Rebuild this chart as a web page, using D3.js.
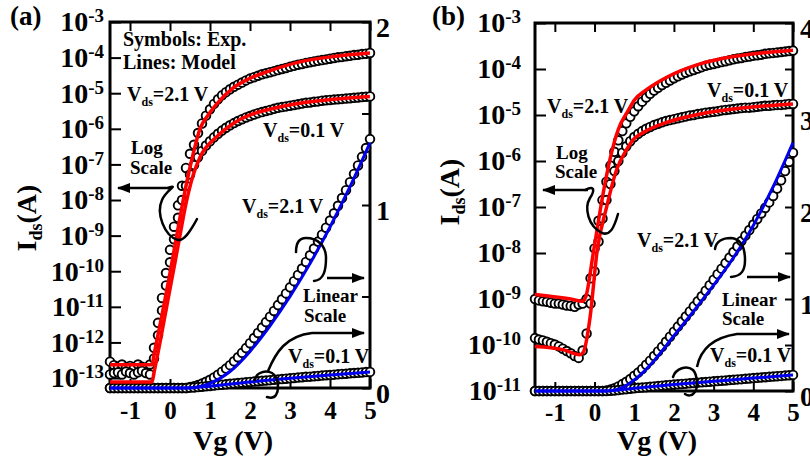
<!DOCTYPE html>
<html>
<head>
<meta charset="utf-8">
<script src="https://cdn.jsdelivr.net/npm/d3@7"></script>
<style>
  body { margin: 0; background: #fff; }
  svg text { font-family: "Liberation Serif", "Times New Roman", "DejaVu Serif", serif; font-weight: bold; fill: #000; }
</style>
</head>
<body>
<svg id="chart" width="810" height="461"></svg>
<script>
// gate voltage of the measured points (V)
const vg = [-1.5,-1.4,-1.3,-1.2,-1.1,-1.0,-0.9,-0.8,-0.7,-0.6,-0.5,-0.4,-0.3,-0.2,-0.1,0,
  0.1,0.2,0.3,0.4,0.5,0.6,0.7,0.8,0.9,1.0,1.1,1.2,1.3,1.4,1.5,1.6,1.7,1.8,1.9,2.0,
  2.1,2.2,2.3,2.4,2.5,2.6,2.7,2.8,2.9,3.0,3.1,3.2,3.3,3.4,3.5,3.6,3.7,3.8,3.9,4.0,
  4.1,4.2,4.3,4.4,4.5,4.6,4.7,4.8,4.9,5.0];

// panel (a) measured, log10(Ids / A)
const aLog21Exp = [-12.54,-12.64,-12.68,-12.62,-12.7,-12.66,-12.7,-12.62,-12.68,-12.72,-12.62,
  -12.15,-11.45,-10.75,-10.05,-9.4,-8.75,-8.15,-7.6,-7.1,-6.7,
  -6.45,-6.12,-5.85,-5.63,-5.45,
  -5.3,-5.17,-5.06,-4.97,-4.89,-4.82,-4.76,-4.7,-4.64,-4.59,
  -4.55,-4.51,-4.47,-4.44,-4.41,-4.38,-4.35,-4.32,-4.29,-4.26,
  -4.23,-4.2,-4.18,-4.15,-4.13,-4.11,-4.09,-4.07,-4.05,-4.03,
  -4.01,-3.99,-3.98,-3.96,-3.95,-3.93,-3.92,-3.9,-3.89,-3.87];
const aLog01Exp = [-12.9,-12.86,-12.84,-12.9,-12.82,-12.86,-12.9,-12.84,-12.8,-12.86,-12.9,
  -12.45,-11.8,-11.1,-10.4,-9.75,-9.1,-8.5,-8.0,-7.6,-7.28,
  -7.02,-6.8,-6.62,-6.47,-6.35,
  -6.24,-6.14,-6.05,-5.97,-5.9,-5.84,-5.78,-5.73,-5.68,-5.64,
  -5.6,-5.56,-5.53,-5.5,-5.47,-5.44,-5.41,-5.39,-5.37,-5.35,
  -5.33,-5.31,-5.29,-5.27,-5.26,-5.24,-5.23,-5.21,-5.2,-5.19,
  -5.18,-5.17,-5.16,-5.15,-5.14,-5.13,-5.12,-5.11,-5.1,-5.09];
// panel (a) measured, right (linear) axis units
const aLin21Exp = [0,0,0,0,0,0,0,0,0,0,0,0,0,0,0,0,0,0,0,0,
  0.006,0.01,0.016,0.024,0.034,0.045,
  0.058,0.073,0.089,0.106,0.125,0.146,0.168,0.192,0.218,0.245,
  0.273,0.301,0.33,0.36,0.39,0.421,0.453,0.485,0.517,0.55,
  0.584,0.618,0.653,0.689,0.725,0.762,0.8,0.838,0.876,0.915,
  0.955,0.996,1.038,1.081,1.125,1.17,1.216,1.263,1.311,1.36];
const aLin01Exp = [0,0,0,0,0,0,0,0,0,0,0,0,0,0,0,0,0,0,0,0,
  0.002,0.003,0.005,0.007,0.009,0.011,
  0.013,0.016,0.018,0.02,0.023,0.025,0.027,0.029,0.031,0.033,
  0.035,0.037,0.039,0.041,0.043,0.045,0.047,0.049,0.051,0.053,
  0.055,0.057,0.059,0.061,0.062,0.064,0.066,0.068,0.07,0.071,
  0.073,0.075,0.077,0.078,0.08,0.082,0.083,0.085,0.087,0.088];

// panel (b) measured
const bLog21Exp = [-9.0,-9.03,-9.05,-9.06,-9.08,-9.1,-9.1,-9.12,-9.14,-9.15,-9.17,
  -9.12,-9.1,-9.0,-8.55,-7.9,-7.3,-6.85,-6.45,-6.1,-5.8,
  -5.55,-5.35,-5.18,-5.04,-4.92,
  -4.81,-4.71,-4.62,-4.54,-4.47,-4.41,-4.35,-4.3,-4.25,-4.2,
  -4.16,-4.12,-4.08,-4.05,-4.02,-3.99,-3.96,-3.93,-3.91,-3.89,
  -3.87,-3.85,-3.83,-3.81,-3.79,-3.77,-3.76,-3.74,-3.73,-3.71,
  -3.7,-3.69,-3.67,-3.66,-3.65,-3.64,-3.63,-3.62,-3.61,-3.6];
const bLog01Exp = [-9.85,-9.88,-9.9,-9.93,-9.96,-9.99,-10.03,-10.08,-10.13,-10.18,-10.24,
  -10.28,-10.12,-9.75,-9.1,-8.4,-7.75,-7.25,-6.85,-6.5,-6.22,
  -6.0,-5.82,-5.68,-5.57,-5.48,
  -5.41,-5.35,-5.3,-5.26,-5.22,-5.19,-5.16,-5.13,-5.11,-5.09,
  -5.07,-5.05,-5.03,-5.01,-5.0,-4.98,-4.97,-4.95,-4.94,-4.93,
  -4.92,-4.9,-4.89,-4.88,-4.87,-4.86,-4.85,-4.84,-4.84,-4.83,
  -4.82,-4.81,-4.8,-4.8,-4.79,-4.78,-4.78,-4.77,-4.76,-4.76];
const bLin21Exp = [0,0,0,0,0,0,0,0,0,0,0,0,0,0,0,0,0,0,
  0.005,0.015,0.03,0.05,0.075,0.1,0.13,0.165,
  0.2,0.24,0.285,0.33,0.38,0.43,0.48,0.535,0.59,0.645,
  0.7,0.755,0.81,0.865,0.92,0.975,1.03,1.09,1.15,1.21,
  1.27,1.33,1.39,1.45,1.51,1.57,1.63,1.69,1.75,1.81,
  1.87,1.93,1.99,2.05,2.12,2.2,2.29,2.39,2.49,2.59];
const bLin01Exp = [0,0,0,0,0,0,0,0,0,0,0,0,0,0,0,0,0,0,0,
  0.003,0.006,0.01,0.015,0.02,0.025,0.03,
  0.034,0.038,0.042,0.046,0.05,0.054,0.058,0.062,0.066,0.07,
  0.073,0.077,0.08,0.084,0.087,0.091,0.094,0.098,0.101,0.105,
  0.108,0.112,0.115,0.119,0.122,0.126,0.129,0.133,0.136,0.14,
  0.143,0.147,0.15,0.154,0.157,0.161,0.164,0.168,0.171,0.175];

// model lines, [Vg, value]
const aLog21Model = [[-1.5,-12.63],[-0.45,-12.63],[-0.4,-12.35],[0,-10.05],[0.2,-8.8],[0.4,-7.6],
  [0.58,-6.7],[0.75,-6.0],[0.95,-5.62],[1.17,-5.3],[1.58,-4.85],[2.0,-4.58],[2.42,-4.4],
  [3.25,-4.12],[4.08,-3.97],[5.0,-3.87]];
const aLog01Model = [[-1.5,-13.11],[-0.45,-13.11],[-0.4,-12.85],[0,-10.5],[0.2,-9.3],[0.4,-8.1],
  [0.58,-7.3],[0.75,-6.8],[1.17,-6.22],[1.58,-5.85],[2.0,-5.61],[2.42,-5.47],[3.25,-5.28],
  [4.08,-5.17],[5.0,-5.09]];
const aLin21Model = [[-1.5,0],[0.4,0],[0.7,0.005],[1.0,0.025],[1.5,0.09],[2.0,0.2],[2.5,0.34],
  [3.0,0.5],[3.5,0.68],[4.0,0.88],[4.5,1.1],[5.0,1.34]];
const aLin01Model = [[-1.5,0],[0.4,0],[1,0.01],[2,0.033],[3,0.053],[4,0.071],[5,0.088]];

const bLog21Model = [[-1.5,-8.9],[-0.6,-9.0],[-0.3,-9.05],[-0.22,-8.95],[-0.03,-7.99],[0.22,-6.69],
  [0.39,-5.96],[0.6,-5.31],[0.85,-4.9],[1.0,-4.68],[1.31,-4.45],[1.82,-4.18],[2.66,-3.89],
  [3.5,-3.73],[4.34,-3.64],[5.0,-3.59]];
const bLog01Model = [[-1.5,-10.03],[-0.8,-10.1],[-0.37,-10.21],[-0.28,-10.15],[-0.11,-9.38],
  [0.06,-7.99],[0.31,-6.98],[0.56,-6.18],[0.81,-5.75],[0.98,-5.53],[1.23,-5.38],[1.82,-5.16],
  [2.66,-4.98],[3.5,-4.87],[4.34,-4.8],[5.0,-4.76]];
const bLin21Model = [[-1.5,0],[0.3,0],[0.6,0.02],[1.0,0.12],[1.5,0.33],[2.0,0.6],[2.5,0.87],
  [3.0,1.15],[3.5,1.45],[4.0,1.8],[4.5,2.22],[5.0,2.7]];
const bLin01Model = [[-1.5,0],[0.3,0],[1,0.03],[2,0.07],[3,0.105],[4,0.14],[5,0.175]];

// ticks
const xTicks = [-1, 0, 1, 2, 3, 4, 5];
const aLogTicks = [-3, -4, -5, -6, -7, -8, -9, -10, -11, -12, -13];
const bLogTicks = [-3, -4, -5, -6, -7, -8, -9, -10, -11];
const aLinTicks = [0, 0.5, 1, 1.5, 2];
const bLinTicks = [0, 0.5, 1, 1.5, 2, 2.5, 3, 3.5, 4];

const serif = '"Liberation Serif", "Times New Roman", "DejaVu Serif", serif';
const svg = d3.select('#chart').attr('font-family', serif).attr('font-weight', 'bold');
svg.append('rect').attr('width', 810).attr('height', 461).attr('fill', '#fff');

svg.append('defs').append('marker')
  .attr('id', 'head')
  .attr('viewBox', '0 0 13 10')
  .attr('refX', 12).attr('refY', 5)
  .attr('markerWidth', 13).attr('markerHeight', 10)
  .attr('markerUnits', 'userSpaceOnUse')
  .attr('orient', 'auto')
  .append('path').attr('d', 'M0,0L13,5L0,10Z').attr('fill', '#000');

const dash = d => (d < 0 ? '-' + Math.abs(d) : String(d));

function vdsText(g, x, y, val) {
  const t = g.append('text').attr('x', x).attr('y', y).attr('font-size', 20);
  t.append('tspan').text('V');
  t.append('tspan').attr('font-size', 12).attr('dy', 5).text('ds');
  t.append('tspan').attr('dy', -5).text('=' + val + ' V');
}

function plainText(g, x, y, s, size) {
  g.append('text').attr('x', x).attr('y', y).attr('font-size', size || 20).text(s);
}

function arrow(g, d) {
  g.append('path').attr('d', d).attr('fill', 'none')
    .attr('stroke', '#000').attr('stroke-width', 2.5)
    .attr('marker-end', 'url(#head)');
}

function curl(g, d) {
  g.append('path').attr('d', d).attr('fill', 'none')
    .attr('stroke', '#000').attr('stroke-width', 2.5).attr('stroke-linecap', 'round');
}

function drawPanel(p) {
  const g = svg.append('g');
  const x = d3.scaleLinear().domain([-1.5, 5]).range([p.left, p.right]);
  const yLog = d3.scaleLog().domain([10 ** p.logMin, 1e-3]).range([p.bottom, p.top]);
  const yLin = d3.scaleLinear().domain([0, p.linMax]).range([p.bottom, p.top]);

  // axes, ticks pointing inwards
  const bottom = g.append('g').attr('transform', `translate(0,${p.bottom})`)
    .call(d3.axisBottom(x).tickValues(xTicks).tickSize(-9).tickPadding(p.bottomPad).tickFormat(dash));
  const top = g.append('g').attr('transform', `translate(0,${p.top})`)
    .call(d3.axisTop(x).tickValues(xTicks).tickSize(-9).tickFormat(''));
  const left = g.append('g').attr('transform', `translate(${p.left},0)`)
    .call(d3.axisLeft(yLog).tickValues(p.logTicks.map(e => 10 ** e)).tickSize(-11).tickPadding(p.leftPad));
  const right = g.append('g').attr('transform', `translate(${p.right},0)`)
    .call(d3.axisRight(yLin).tickValues(p.linTicks).tickSize(-8).tickPadding(p.rightPad)
      .tickFormat(d => (Number.isInteger(d) ? d : '')));

  [bottom, top, left, right].forEach(a => {
    a.attr('font-family', serif).attr('font-weight', 'bold');
    a.select('.domain').remove();
    a.selectAll('.tick line').attr('stroke-width', 2);
  });
  bottom.selectAll('text').attr('font-size', 25);
  right.selectAll('text').attr('font-size', 28).attr('dy', '0.52em');
  left.selectAll('text').attr('font-size', 28).each(function (d) {
    const t = d3.select(this);
    t.text(null);
    t.append('tspan').text('10');
    t.append('tspan').attr('font-size', 19).attr('dy', -9).text(dash(Math.round(Math.log10(d))));
  });

  g.append('rect')
    .attr('x', p.left).attr('y', p.top)
    .attr('width', p.right - p.left).attr('height', p.bottom - p.top)
    .attr('fill', 'none').attr('stroke', '#000').attr('stroke-width', 3);

  // measured points
  const pts = [
    { vals: p.log21, y: v => yLog(10 ** v) },
    { vals: p.log01, y: v => yLog(10 ** v) },
    { vals: p.lin21, y: v => yLin(v) },
    { vals: p.lin01, y: v => yLin(v) }
  ];
  pts.forEach(s => {
    g.append('g').selectAll('circle')
      .data(s.vals)
      .join('circle')
      .attr('cx', (d, i) => x(vg[i]))
      .attr('cy', d => s.y(d))
      .attr('r', 4.3)
      .attr('fill', '#fff')
      .attr('stroke', '#000')
      .attr('stroke-width', 1.9);
  });

  // model lines
  const logLine = d3.line().x(d => x(d[0])).y(d => yLog(10 ** d[1])).curve(d3.curveMonotoneX);
  const linLine = d3.line().x(d => x(d[0])).y(d => yLin(d[1])).curve(d3.curveMonotoneX);
  [p.lin21Model, p.lin01Model].forEach(m => {
    g.append('path').attr('d', linLine(m)).attr('fill', 'none')
      .attr('stroke', '#0000ee').attr('stroke-width', 3);
  });
  [p.log21Model, p.log01Model].forEach(m => {
    g.append('path').attr('d', logLine(m)).attr('fill', 'none')
      .attr('stroke', '#ff0000').attr('stroke-width', 3.5);
  });

  // titles
  g.append('text').attr('x', p.tagX).attr('y', 25).attr('font-size', 27).text(p.tag);
  g.append('text').attr('x', (p.left + p.right) / 2 - 7).attr('y', 450)
    .attr('font-size', 28).attr('text-anchor', 'middle').text('Vg (V)');
  const yt = g.append('text').attr('font-size', 28).attr('text-anchor', 'middle')
    .attr('transform', `translate(${p.yTitleX},${p.yTitleY}) rotate(-90)`);
  yt.append('tspan').text('I');
  yt.append('tspan').attr('font-size', 18).attr('dy', 6).text('ds');
  yt.append('tspan').attr('dy', -6).text('(A)');

  p.notes(g);
}

drawPanel({
  tag: '(a)', tagX: 10,
  left: 110, right: 370, top: 22, bottom: 388,
  logMin: -13.28, logTicks: aLogTicks, linMax: 2, linTicks: aLinTicks,
  leftPad: 6, rightPad: 6, bottomPad: 13, yTitleX: 36, yTitleY: 218,
  log21: aLog21Exp, log01: aLog01Exp, lin21: aLin21Exp, lin01: aLin01Exp,
  log21Model: aLog21Model, log01Model: aLog01Model, lin21Model: aLin21Model, lin01Model: aLin01Model,
  notes: g => {
    plainText(g, 123, 46, 'Symbols: Exp.');
    plainText(g, 123, 69, 'Lines: Model');
    vdsText(g, 127, 101, '2.1');
    vdsText(g, 263, 137, '0.1');
    plainText(g, 131, 154, 'Log', 19);
    plainText(g, 130, 174, 'Scale', 19);
    arrow(g, 'M172,188L118,188');
    curl(g, 'M168,188C180,184 166,190 162,200C156,213 164,236 178,240C184,241 190,232 197,219');
    vdsText(g, 242, 213, '2.1');
    curl(g, 'M296,252C296,244 298,238 306,238C318,238 326,246 326,258C326,270 324,280 314,281');
    arrow(g, 'M327,278L364,278');
    plainText(g, 303, 302, 'Linear', 19);
    plainText(g, 304, 322, 'Scale', 19);
    arrow(g, 'M268,371C276,352 286,336 312,333L364,333');
    curl(g, 'M255,380C256,372 266,370 272,373C279,377 279,391 276,395C274,398 270,398 267,397');
    vdsText(g, 288, 363, '0.1');
  }
});

drawPanel({
  tag: '(b)', tagX: 432,
  left: 535, right: 793, top: 23, bottom: 391,
  logMin: -11, logTicks: bLogTicks, linMax: 4, linTicks: bLinTicks,
  leftPad: 14, rightPad: 7, bottomPad: 12, yTitleX: 459, yTitleY: 192,
  log21: bLog21Exp, log01: bLog01Exp, lin21: bLin21Exp, lin01: bLin01Exp,
  log21Model: bLog21Model, log01Model: bLog01Model, lin21Model: bLin21Model, lin01Model: bLin01Model,
  notes: g => {
    vdsText(g, 547, 113, '2.1');
    plainText(g, 556, 159, 'Log', 19);
    plainText(g, 555, 178, 'Scale', 19);
    arrow(g, 'M588,190L543,190');
    curl(g, 'M585,190C596,184 594,192 590,198C584,208 588,226 602,233C610,236 614,228 618,214');
    vdsText(g, 707, 97, '0.1');
    vdsText(g, 637, 247, '2.1');
    curl(g, 'M715,249C716,242 722,238 731,238C741,239 745,248 745,260C745,270 742,276 731,277');
    arrow(g, 'M747,277L790,277');
    plainText(g, 722, 306, 'Linear', 19);
    plainText(g, 722, 325, 'Scale', 19);
    arrow(g, 'M697,367C700,352 710,338 737,334L789,334');
    curl(g, 'M673,377C676,368 687,365 693,370C698,375 698,390 694,393C692,396 688,396 685,394');
    vdsText(g, 710, 362, '0.1');
  }
});
</script>
</body>
</html>
